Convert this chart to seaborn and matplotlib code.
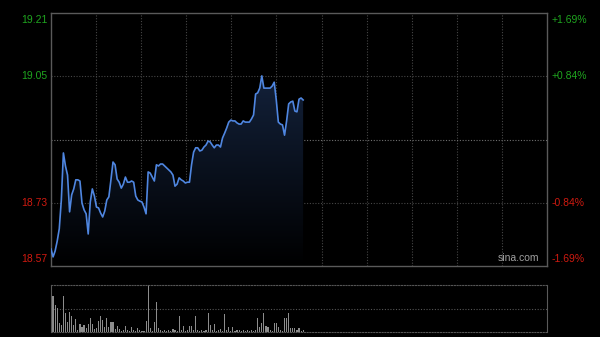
import numpy as np
import pandas as pd
import matplotlib
matplotlib.use("Agg")
import matplotlib.pyplot as plt
from matplotlib.colors import LinearSegmentedColormap
import seaborn as sns

prev_close = 18.89
price_min, price_max = 18.57, 19.21

price = [
    18.613, 18.593, 18.608, 18.633, 18.664, 18.737, 18.856, 18.823, 18.800, 18.707,
    18.750, 18.765, 18.788, 18.788, 18.785, 18.729, 18.712, 18.702, 18.651, 18.732,
    18.765, 18.747, 18.719, 18.717, 18.704, 18.694, 18.709, 18.737, 18.745, 18.788,
    18.833, 18.826, 18.790, 18.782, 18.767, 18.777, 18.795, 18.782, 18.782, 18.785,
    18.782, 18.747, 18.737, 18.734, 18.732, 18.719, 18.702, 18.808, 18.805, 18.795,
    18.785, 18.826, 18.823, 18.828, 18.828, 18.823, 18.818, 18.813, 18.808, 18.800,
    18.772, 18.777, 18.793, 18.788, 18.785, 18.780, 18.782, 18.782, 18.826, 18.858,
    18.869, 18.869, 18.861, 18.863, 18.871, 18.876, 18.886, 18.884, 18.876, 18.869,
    18.876, 18.876, 18.871, 18.894, 18.906, 18.919, 18.934, 18.939, 18.937, 18.937,
    18.932, 18.929, 18.929, 18.937, 18.934, 18.934, 18.934, 18.942, 18.952, 19.005,
    19.008, 19.020, 19.051, 19.020, 19.020, 19.020, 19.020, 19.025, 19.035, 18.990,
    18.934, 18.929, 18.927, 18.901, 18.937, 18.980, 18.985, 18.987, 18.962, 18.960,
    18.992, 18.995, 18.990,
]

volume = [
    84, 77, 58, 52, 19, 14, 77, 40, 21, 42,
    35, 14, 28, 4, 17, 11, 15, 9, 17, 29,
    17, 6, 8, 24, 33, 26, 10, 29, 11, 22,
    22, 6, 13, 6, 3, 4, 13, 4, 3, 10,
    4, 3, 9, 4, 3, 3, 23, 100, 8, 3,
    22, 63, 8, 4, 3, 4, 3, 4, 3, 6,
    4, 3, 34, 4, 12, 3, 4, 13, 12, 4,
    33, 5, 3, 4, 3, 4, 40, 14, 4, 17,
    3, 5, 6, 3, 38, 4, 11, 3, 11, 3,
    4, 5, 3, 4, 3, 4, 3, 5, 3, 4,
    29, 11, 19, 40, 12, 11, 4, 3, 19, 19,
    11, 4, 3, 29, 30, 40, 8, 8, 9, 4,
    8, 3, 4,
]

left_labels = ["19.21", "19.05", "18.73", "18.57"]
left_values = [19.21, 19.05, 18.73, 18.57]
right_labels = ["+1.69%", "+0.84%", "-0.84%", "-1.69%"]
label_colors = ["#1fa51f", "#1fa51f", "#d01a10", "#d01a10"]
total_minutes = 240

df = pd.DataFrame({"minute": np.arange(len(price)), "price": price, "volume": volume})

plt.rcParams["font.family"] = ["Liberation Sans", "DejaVu Sans"]

fig = plt.figure(figsize=(6, 3.37), dpi=100, facecolor="black")
ax = fig.add_axes([0.085, 0.2107, 0.8267, 0.7507])
axv = fig.add_axes([0.085, 0.0148, 0.8267, 0.1395])

# ---- price panel ----
ax.set_facecolor("black")
ax.set_xlim(0, total_minutes)
ax.set_ylim(price_min, price_max)

poly = ax.fill_between(df["minute"], df["price"], price_min, color="none", linewidth=0)
cmap = LinearSegmentedColormap.from_list("g", ["#000000", "#13213a"])
grad = np.linspace(1, 0, 256).reshape(-1, 1)
im = ax.imshow(grad, extent=[0, total_minutes, price_min, max(price)], aspect="auto",
               cmap=cmap, origin="upper", zorder=1)
im.set_clip_path(poly.get_paths()[0], transform=ax.transData)

sns.lineplot(data=df, x="minute", y="price", ax=ax, color="#4f86e0", linewidth=1.2, zorder=3)

ax.set_xticks(np.linspace(0, total_minutes, 12)[1:-1])
ax.set_yticks([19.05, prev_close, 18.73])
ax.grid(True, color="#464646", linestyle=(0, (1, 1.5)), linewidth=0.8, zorder=0)
ax.yaxis.get_gridlines()[1].set_color("#707070")
ax.set_axisbelow(True)
ax.tick_params(length=0, labelleft=False, labelbottom=False)
ax.set_xlabel("")
ax.set_ylabel("")
for s in ax.spines.values():
    s.set_color("#5a5a5a")
    s.set_linewidth(1)

tr = ax.get_yaxis_transform()
for i, (v, lab, rlab, c) in enumerate(zip(left_values, left_labels, right_labels, label_colors)):
    va = "top" if i == 0 else ("bottom" if i == len(left_values) - 1 else "center")
    off = -0.004 if i == 0 else (0.004 if i == len(left_values) - 1 else 0)
    ax.text(-0.007, v + off, lab, transform=tr, ha="right", va=va, color=c, fontsize=7.5)
    ax.text(1.010, v + off, rlab, transform=tr, ha="left", va=va, color=c, fontsize=7.5)

ax.text(0.985, 0.012, "sina.com", transform=ax.transAxes, ha="right", va="bottom",
        color="#a0a0a0", fontsize=7.5, zorder=4)

# ---- volume panel ----
axv.set_facecolor("black")
sns.barplot(data=df, x="minute", y="volume", ax=axv, native_scale=True, width=0.55,
            color="#8c8c8c", linewidth=0, edgecolor="none", errorbar=None, saturation=1)
axv.set_xlim(0, total_minutes)
axv.set_ylim(0, max(volume))
axv.set_yticks([max(volume) / 2])
axv.set_xticks([])
axv.grid(True, axis="y", color="#555555", linestyle=(0, (1, 1.5)), linewidth=0.8)
axv.set_axisbelow(True)
axv.tick_params(length=0, labelleft=False, labelbottom=False)
axv.set_xlabel("")
axv.set_ylabel("")
for k in ["left", "right"]:
    axv.spines[k].set_color("#5a5a5a")
for k in ["top", "bottom"]:
    axv.spines[k].set_color("#555555")
    axv.spines[k].set_linestyle((0, (1, 1.5)))

fig.savefig("out.png", dpi=100, facecolor="black")
